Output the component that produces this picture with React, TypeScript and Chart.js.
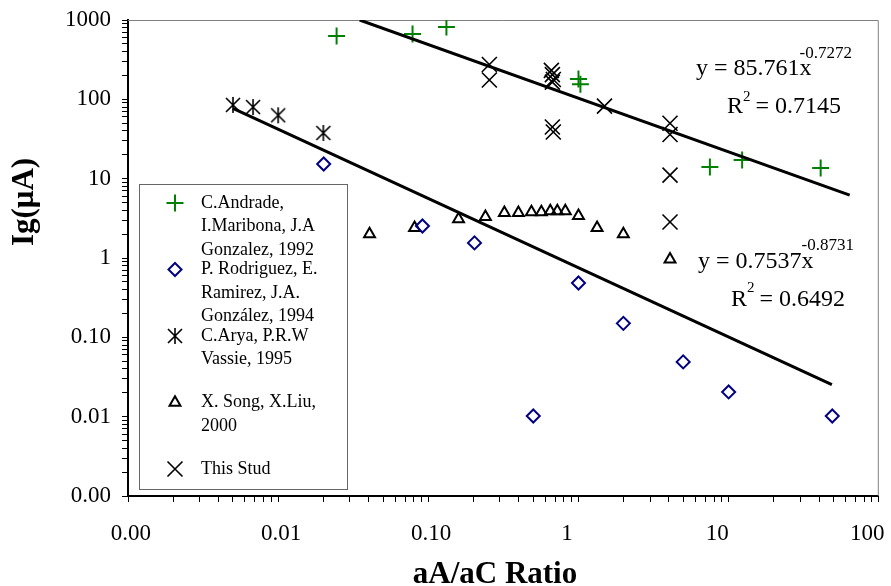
import React, { useEffect, useRef } from "react";
import { Chart, registerables } from "chart.js";

Chart.register(...registerables);

const SERIF = "'Liberation Serif', 'Times New Roman', Times, serif";

// ---- tick labels ----
const xTickLabels = ["0.00", "0.01", "0.10", "1", "10", "100"];
const yTickLabels = ["0.00", "0.01", "0.10", "1", "10", "100", "1000"];
const xMin = 0.001;
const xMax = 100;
const yMin = 0.001;
const yMax = 1000;

// ---- series ----
const andradeX = [0.0245, 0.0785, 0.132, 1.0, 1.03, 7.5, 12.3, 41];
const andradeY = [629, 667, 816, 180, 155, 14.0, 17.2, 13.6];

const rodriguezX = [0.0201, 0.0914, 0.203, 1.0, 1.99, 4.98, 0.5, 10, 49];
const rodriguezY = [15.3, 2.53, 1.55, 0.484, 0.15, 0.049, 0.0102, 0.0205, 0.0102];

const aryaX = [0.005, 0.0068, 0.01, 0.02];
const aryaY = [85, 80, 63, 37.7];

const songX = [0.0406, 0.081, 0.159, 0.24, 0.321, 0.398, 0.486, 0.566, 0.649, 0.723, 0.817, 1.0, 1.33, 1.99, 4.07];
const songY = [2.0, 2.4, 3.1, 3.3, 3.7, 3.7, 3.8, 3.8, 3.9, 3.9, 3.9, 3.4, 2.4, 2.0, 0.96];

const studyX = [0.255, 0.255, 0.66, 0.67, 0.68, 0.67, 0.67, 0.68, 1.49, 4.07, 4.07, 4.07, 4.07];
const studyY = [275, 175, 232, 205, 178, 165, 44.8, 38.7, 82, 50, 36, 11.1, 2.84];

// trend lines (end points)
const trend1X = [0.0349, 64];
const trend1Y = [1000, 6.2];
const trend2X = [0.005, 48.7];
const trend2Y = [77, 0.0253];

const legendEntries = [
  ["C.Andrade,", "I.Maribona, J.A", "Gonzalez, 1992"],
  ["P. Rodriguez, E.", "Ramirez, J.A.", "González, 1994"],
  ["C.Arya, P.R.W", "Vassie, 1995"],
  ["X. Song, X.Liu,", "2000"],
  ["This Stud"],
];
const legendMarkers = ["plus", "diamond", "asterisk", "triangle", "x"];

const eq1 = { main: "y = 85.761x", sup: "-0.7272", r2: " = 0.7145" };
const eq2 = { main: "y = 0.7537x", sup: "-0.8731", r2: " = 0.6492" };

const GREEN = "#008000";
const NAVY = "#000080";

function zip(xs: number[], ys: number[]) {
  return xs.map((x, i) => ({ x, y: ys[i] }));
}

function drawMarker(ctx: CanvasRenderingContext2D, kind: string, x: number, y: number) {
  ctx.save();
  ctx.beginPath();
  if (kind === "plus") {
    ctx.strokeStyle = GREEN;
    ctx.lineWidth = 2;
    ctx.moveTo(x - 8.5, y);
    ctx.lineTo(x + 8.5, y);
    ctx.moveTo(x, y - 8.5);
    ctx.lineTo(x, y + 8.5);
  } else if (kind === "diamond") {
    ctx.strokeStyle = NAVY;
    ctx.lineWidth = 2;
    ctx.moveTo(x - 6.5, y);
    ctx.lineTo(x, y - 6.5);
    ctx.lineTo(x + 6.5, y);
    ctx.lineTo(x, y + 6.5);
    ctx.closePath();
  } else if (kind === "asterisk") {
    ctx.strokeStyle = "#000";
    ctx.lineWidth = 1.6;
    ctx.moveTo(x - 7, y - 7);
    ctx.lineTo(x + 7, y + 7);
    ctx.moveTo(x + 7, y - 7);
    ctx.lineTo(x - 7, y + 7);
    ctx.moveTo(x, y - 8);
    ctx.lineTo(x, y + 8);
  } else if (kind === "triangle") {
    const r = 6.3;
    ctx.strokeStyle = "#000";
    ctx.lineWidth = 2;
    ctx.moveTo(x, y - r);
    ctx.lineTo(x + 0.866 * r, y + 0.5 * r);
    ctx.lineTo(x - 0.866 * r, y + 0.5 * r);
    ctx.closePath();
  } else {
    ctx.strokeStyle = "#000";
    ctx.lineWidth = 1.6;
    ctx.moveTo(x - 7.5, y - 7.5);
    ctx.lineTo(x + 7.5, y + 7.5);
    ctx.moveTo(x + 7.5, y - 7.5);
    ctx.lineTo(x - 7.5, y + 7.5);
  }
  ctx.stroke();
  ctx.restore();
}

function makeAsteriskCanvas() {
  const c = document.createElement("canvas");
  c.width = 20;
  c.height = 20;
  const ctx = c.getContext("2d")!;
  drawMarker(ctx, "asterisk", 10, 10);
  return c;
}

function logTicks(scale: any) {
  const ticks: { value: number }[] = [];
  const e0 = Math.round(Math.log10(scale.min));
  const e1 = Math.round(Math.log10(scale.max));
  for (let e = e0; e < e1; e++) {
    for (let m = 1; m <= 9; m++) ticks.push({ value: m * Math.pow(10, e) });
  }
  ticks.push({ value: Math.pow(10, e1) });
  scale.ticks = ticks;
}

function majorIndex(value: number, minVal: number) {
  const l = Math.log10(value);
  const r = Math.round(l);
  if (Math.abs(l - r) > 1e-6) return -1;
  return r - Math.round(Math.log10(minVal));
}

const overlayPlugin = {
  id: "overlay",
  beforeDatasetsDraw(chart: any) {
    const { ctx, chartArea } = chart;
    ctx.save();
    ctx.strokeStyle = "#808080";
    ctx.lineWidth = 1;
    ctx.beginPath();
    ctx.moveTo(chartArea.left, chartArea.top + 0.5);
    ctx.lineTo(chartArea.right - 0.5, chartArea.top + 0.5);
    ctx.lineTo(chartArea.right - 0.5, chartArea.bottom);
    ctx.stroke();
    ctx.restore();
  },
  afterDraw(chart: any) {
    const ctx: CanvasRenderingContext2D = chart.ctx;
    ctx.save();
    ctx.fillStyle = "#000";
    ctx.textBaseline = "alphabetic";

    // equations
    const drawEq = (eq: any, x: number, base: number, supBase: number, rx: number, rBase: number, r2Base: number) => {
      ctx.font = `24px ${SERIF}`;
      ctx.textAlign = "left";
      ctx.fillText(eq.main, x, base);
      const w = ctx.measureText(eq.main).width;
      ctx.font = `17px ${SERIF}`;
      ctx.fillText(eq.sup, x + w - 12, supBase);
      ctx.font = `24px ${SERIF}`;
      ctx.fillText("R", rx, rBase);
      const wr = ctx.measureText("R").width;
      ctx.font = `15px ${SERIF}`;
      ctx.fillText("2", rx + wr, r2Base);
      const w2 = ctx.measureText("2").width;
      ctx.font = `24px ${SERIF}`;
      ctx.fillText(eq.r2, rx + wr + w2 - 1, rBase);
    };
    drawEq(eq1, 696, 75, 58, 727, 113, 101);
    drawEq(eq2, 698, 268, 250, 731, 306, 292);

    // legend
    const lx = 139, ly = 184, lw = 208, lh = 305;
    ctx.fillStyle = "#fff";
    ctx.fillRect(lx, ly, lw, lh);
    ctx.strokeStyle = "#666";
    ctx.lineWidth = 1;
    ctx.strokeRect(lx + 0.5, ly + 0.5, lw, lh);
    ctx.fillStyle = "#000";
    ctx.font = `18px ${SERIF}`;
    ctx.textAlign = "left";
    ctx.textBaseline = "middle";
    legendEntries.forEach((lines, i) => {
      const y0 = 203 + 66.5 * i;
      drawMarker(ctx, legendMarkers[i], 175, y0);
      lines.forEach((t, j) => {
        ctx.fillText(t, 201, y0 + 23.5 * j);
      });
    });

    // axis titles
    ctx.textBaseline = "alphabetic";
    ctx.font = `bold 31px ${SERIF}`;
    ctx.textAlign = "center";
    ctx.fillText("aA/aC Ratio", 495, 583);
    ctx.save();
    ctx.translate(33, 202);
    ctx.rotate(-Math.PI / 2);
    ctx.fillText("Ig(\u03bcA)", 0, 0);
    ctx.restore();
    ctx.restore();
  },
};

export default function App() {
  const ref = useRef<HTMLCanvasElement>(null);

  useEffect(() => {
    const canvas = ref.current!;
    const asterisk = makeAsteriskCanvas();
    const tickFont = { family: SERIF, size: 23 };

    const chart = new Chart(canvas, {
      type: "scatter",
      data: {
        datasets: [
          {
            label: "trend1",
            data: zip(trend1X, trend1Y),
            showLine: true,
            borderColor: "#000",
            borderWidth: 3,
            pointRadius: 0,
          },
          {
            label: "trend2",
            data: zip(trend2X, trend2Y),
            showLine: true,
            borderColor: "#000",
            borderWidth: 3,
            pointRadius: 0,
          },
          {
            label: "C.Andrade, I.Maribona, J.A Gonzalez, 1992",
            data: zip(andradeX, andradeY),
            pointStyle: "cross",
            pointRadius: 8.5,
            borderColor: GREEN,
            backgroundColor: "transparent",
            pointBorderWidth: 2,
          },
          {
            label: "P. Rodriguez, E. Ramirez, J.A. González, 1994",
            data: zip(rodriguezX, rodriguezY),
            pointStyle: "rectRot",
            pointRadius: 6.5,
            borderColor: NAVY,
            backgroundColor: "transparent",
            pointBorderWidth: 2,
          },
          {
            label: "C.Arya, P.R.W Vassie, 1995",
            data: zip(aryaX, aryaY),
            pointStyle: asterisk,
            pointRadius: 8,
            borderColor: "#000",
            backgroundColor: "transparent",
          },
          {
            label: "X. Song, X.Liu, 2000",
            data: zip(songX, songY),
            pointStyle: "triangle",
            pointRadius: 6.3,
            borderColor: "#000",
            backgroundColor: "transparent",
            pointBorderWidth: 2,
          },
          {
            label: "This Study",
            data: zip(studyX, studyY),
            pointStyle: "crossRot",
            pointRadius: 10.6,
            borderColor: "#000",
            backgroundColor: "transparent",
            pointBorderWidth: 1.6,
          },
        ],
      },
      options: {
        responsive: false,
        animation: false,
        devicePixelRatio: 1,
        events: [],
        layout: { padding: { left: 0, top: 20, right: 11, bottom: 0 } },
        plugins: {
          legend: { display: false },
          tooltip: { enabled: false },
        },
        scales: {
          x: {
            type: "logarithmic",
            min: xMin,
            max: xMax,
            afterBuildTicks: logTicks,
            afterFit: (s: any) => {
              s.height = 90;
              s.paddingLeft = 0;
              s.paddingRight = 0;
            },
            grid: {
              display: true,
              drawOnChartArea: false,
              drawTicks: true,
              tickLength: 6,
              color: "#000",
              lineWidth: 1,
            },
            border: { display: true, color: "#000", width: 2 },
            ticks: {
              autoSkip: false,
              maxRotation: 0,
              minRotation: 0,
              padding: 18,
              color: "#000",
              font: tickFont,
              callback: (value: any) => {
                const i = majorIndex(Number(value), xMin);
                if (i < 0) return "";
                const s = xTickLabels[i];
                return s.includes(".") ? " " + s : s + "    ";
              },
            },
          },
          y: {
            type: "logarithmic",
            min: yMin,
            max: yMax,
            afterBuildTicks: logTicks,
            afterFit: (s: any) => {
              s.width = 128;
              s.paddingTop = 0;
              s.paddingBottom = 0;
            },
            grid: {
              display: true,
              drawOnChartArea: false,
              drawTicks: true,
              tickLength: 6,
              color: "#000",
              lineWidth: 1,
            },
            border: { display: true, color: "#000", width: 2 },
            ticks: {
              autoSkip: false,
              padding: 11,
              color: "#000",
              font: tickFont,
              callback: (value: any) => {
                const i = majorIndex(Number(value), yMin);
                return i < 0 ? "" : yTickLabels[i];
              },
            },
          },
        },
      } as any,
      plugins: [overlayPlugin],
    });

    return () => chart.destroy();
  }, []);

  return (
    <div style={{ position: "absolute", left: 0, top: 0, width: 891, height: 586, background: "#fff" }}>
      <canvas ref={ref} width={891} height={586} style={{ display: "block", width: 891, height: 586 }} />
    </div>
  );
}
